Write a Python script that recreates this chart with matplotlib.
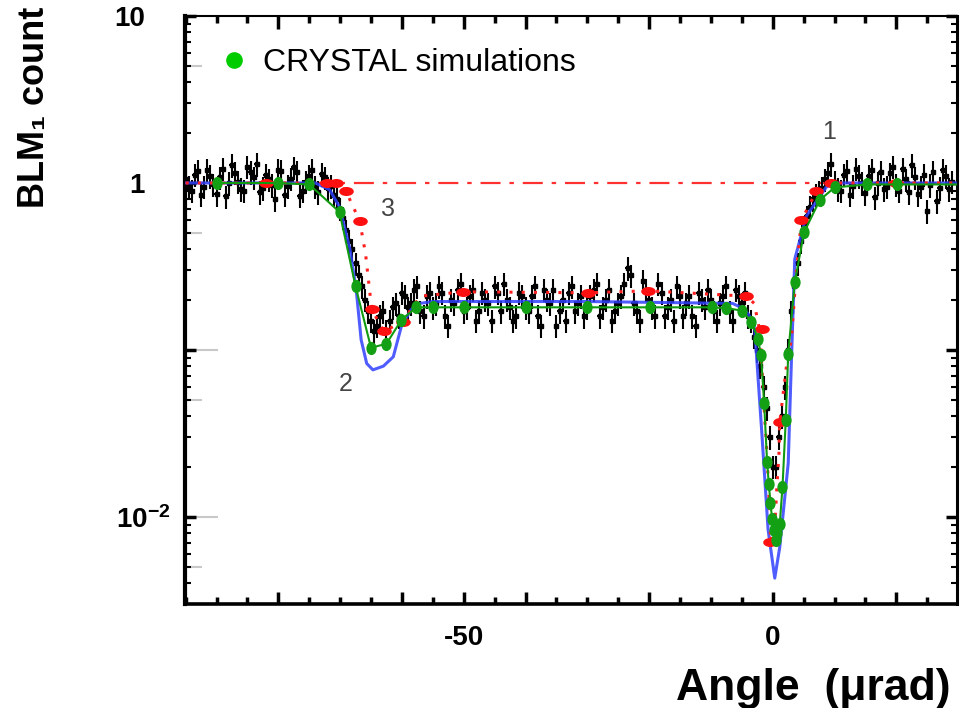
import numpy as np
import matplotlib
matplotlib.use("Agg")
import matplotlib.pyplot as plt
from matplotlib.path import Path
from matplotlib.transforms import Affine2D, ScaledTranslation
from matplotlib.ticker import MultipleLocator, FixedLocator, NullFormatter, LogLocator
from matplotlib.lines import Line2D

plt.rcParams['font.family'] = ['Liberation Sans', 'DejaVu Sans']
plt.rcParams['mathtext.fontset'] = 'custom'
plt.rcParams['mathtext.rm'] = 'Liberation Sans:bold'
plt.rcParams['mathtext.bf'] = 'Liberation Sans:bold'

# =========================
# DATA
# =========================
# measured BLM1 counts, two interleaved scans (integer and half-integer urad)
black_x = np.arange(-95, 30)
black_y = [1.05, 0.90, 1.18, 0.95, 1.10, 0.86, 1.22, 1.00, 1.15, 0.92,
           1.25, 1.08, 0.88, 1.12, 0.97, 1.20, 0.85, 1.06, 1.17, 0.90,
           1.10, 0.95, 1.13, 0.93, 0.85, 0.70, 0.52, 0.40, 0.28, 0.20,
           0.15, 0.14, 0.17, 0.15, 0.19, 0.22, 0.18, 0.23, 0.17, 0.21,
           0.18, 0.24, 0.16, 0.20, 0.23, 0.17, 0.21, 0.15, 0.22, 0.19,
           0.24, 0.17, 0.20, 0.15, 0.22, 0.18, 0.21, 0.16, 0.23, 0.19,
           0.14, 0.20, 0.22, 0.17, 0.21, 0.18, 0.23, 0.16, 0.20, 0.15,
           0.19, 0.25, 0.28, 0.17, 0.26, 0.20, 0.16, 0.22, 0.18, 0.15,
           0.21, 0.19, 0.16, 0.22, 0.18, 0.20, 0.15, 0.21, 0.17, 0.23,
           0.19, 0.16, 0.12, 0.080, 0.045, 0.020, 0.030, 0.060, 0.17, 0.33,
           0.55, 0.72, 0.85, 0.93, 1.15, 1.02, 0.90, 1.18, 0.96, 1.10,
           0.87, 1.20, 1.00, 0.92, 1.14, 0.98, 1.22, 0.88, 1.08, 0.95,
           0.68, 1.16, 0.93, 1.10, 1.02]
black_x2 = np.arange(-94.5, 29)
black_y2 = [0.95, 1.12, 0.85, 1.20, 0.98, 1.08, 0.83, 1.28, 1.02, 0.90,
            1.16, 1.30, 0.93, 1.05, 0.80, 1.18, 0.96, 1.24, 0.84, 1.02,
            1.20, 0.88, 1.08, 0.96, 0.80, 0.62, 0.45, 0.33, 0.24, 0.17,
            0.13, 0.16, 0.13, 0.18, 0.16, 0.21, 0.19, 0.24, 0.16, 0.22,
            0.19, 0.22, 0.14, 0.19, 0.25, 0.18, 0.23, 0.17, 0.20, 0.15,
            0.22, 0.25, 0.18, 0.16, 0.21, 0.17, 0.24, 0.14, 0.20, 0.23,
            0.17, 0.15, 0.24, 0.19, 0.16, 0.21, 0.25, 0.18, 0.23, 0.17,
            0.21, 0.31, 0.19, 0.15, 0.23, 0.18, 0.25, 0.16, 0.20, 0.24,
            0.16, 0.21, 0.14, 0.20, 0.23, 0.17, 0.19, 0.24, 0.15, 0.21,
            0.22, 0.15, 0.10, 0.06, 0.03, 0.02, 0.04, 0.10, 0.24, 0.45,
            0.63, 0.80, 0.88, 1.05, 1.30, 0.92, 1.12, 0.85, 1.22, 1.00,
            1.10, 0.82, 1.16, 0.95, 1.25, 0.90, 1.05, 1.28, 0.86, 1.12,
            0.97, 0.78, 1.20, 0.92]
rel_err = 0.16

# blue model curve
blue_x = [-95, -74, -71.7, -70.1, -68.4, -67.4, -66.6, -65.7, -64.7, -63.0,
          -61.4, -60.1, -58.5, -57.1, -55.0, -30.0, -6.5, -4.5, -3.2, -2.9,
          -1.8, -0.76, 0.32, 1.13, 2.5, 3.0, 3.56, 5.4, 8.7, 10.5, 30]
blue_y = [1.0, 1.0, 0.91, 0.72, 0.40, 0.23, 0.115, 0.083, 0.076, 0.080,
          0.091, 0.138, 0.175, 0.19, 0.195, 0.195, 0.19, 0.175, 0.148, 0.13,
          0.033, 0.0084, 0.0043, 0.0066, 0.021, 0.083, 0.35, 0.63, 0.95, 1.0, 1.0]

# red dotted model curve
red_x = [-95, -70.6, -69.0, -68.2, -66.8, -66.4, -65.9, -65.3, -64.9, -62.9,
         -59.9, -57.0, -50.1, -29.9, -20.2, -4.3, -3.0, -2.1, -1.3, -1.1,
         -0.76, -0.5, -0.37, 0.4, 0.7, 1.0, 1.13, 2.3, 3.0, 3.8,
         4.64, 7.07, 9.5, 30]
red_y = [1.0, 1.0, 0.89, 0.76, 0.59, 0.48, 0.38, 0.24, 0.175, 0.129,
         0.148, 0.21, 0.223, 0.22, 0.226, 0.21, 0.19, 0.13, 0.039, 0.030,
         0.0175, 0.011, 0.0071, 0.010, 0.016, 0.024, 0.037, 0.085, 0.115, 0.29,
         0.60, 0.89, 1.0, 1.0]
# big red markers
redpt_x = [-82.0, -72.2, -70.6, -69.0, -66.8, -64.9, -62.9, -59.9, -50.1, -29.9,
           -20.2, -4.3, -1.8, -0.37, 1.13, 4.64, 7.07, 9.5, 20.0]
redpt_y = [1.0, 1.0, 1.0, 0.89, 0.59, 0.175, 0.129, 0.148, 0.223, 0.22,
           0.226, 0.21, 0.133, 0.0071, 0.037, 0.60, 0.89, 1.0, 1.0]

# CRYSTAL simulations
green_x = [-90.0, -80.1, -75.0, -70.1, -67.5, -65.0, -62.5, -60.1, -57.7, -55.0,
           -50.0, -40.0, -30.0, -19.9, -9.9, -7.5, -5.0, -3.45, -2.4, -1.9,
           -1.4, -0.92, -0.65, -0.37, -0.11, 0.16, 0.49, 0.7, 1.13, 1.57,
           2.1, 2.5, 3.56, 5.07, 7.6, 10.0, 15.2, 20.1]
green_y = [1.0, 1.0, 0.98, 0.67, 0.24, 0.103, 0.109, 0.151, 0.18, 0.18,
           0.18, 0.18, 0.18, 0.18, 0.18, 0.178, 0.172, 0.148, 0.117, 0.093,
           0.048, 0.0214, 0.0158, 0.0121, 0.0097, 0.0083, 0.0073, 0.0080, 0.0091, 0.0151,
           0.038, 0.095, 0.256, 0.507, 0.79, 0.94, 0.98, 0.98]
green_line_end = 30

# curve labels
lab_text = ["1", "2", "3"]
lab_x = [9.1, -69.1, -62.3]
lab_y = [2.02, 0.0625, 0.70]

# =========================
# FIGURE
# =========================
fig = plt.figure(figsize=(9.61, 7.08), dpi=100)
ax = fig.add_axes([0.1925, 0.1469, 0.8033, 0.8305])

ax.set_yscale("log")
ax.set_xlim(-95.1, 29.8)
ax.set_ylim(0.00301, 10)

green_marker = Path.unit_circle().transformed(Affine2D().scale(0.78, 1.0))
red_marker = Path.unit_circle().transformed(Affine2D().scale(1.0, 0.62))

ax.axhline(1.0, color="#ff3030", lw=1.6, ls=(0, (9, 4, 2, 4)), zorder=1)

for bx, by in [(black_x, black_y), (black_x2, black_y2)]:
    ax.errorbar(bx, by, yerr=np.array(by) * rel_err, xerr=0.4,
                fmt="s", ms=2.5, color="black", ecolor="black", elinewidth=1.5,
                capsize=0, zorder=2)

ax.plot(blue_x, blue_y, color="#3040ff", lw=2.2, alpha=0.85, zorder=3)
ax.plot(red_x, red_y, color="#ff2020", lw=2.2, ls=(0, (1, 3)), zorder=3)
ax.plot(redpt_x, redpt_y, ls="none", marker=red_marker, ms=10.5,
        color="#ff1010", mec="none", zorder=3)

ax.plot(green_x + [green_line_end], green_y + [green_y[-1]], color="#109a10", lw=1.5, zorder=4)
ax.plot(green_x, green_y, ls="none", marker=green_marker, ms=9.5,
        color="#14a014", mec="none", zorder=5)

for t, x, y in zip(lab_text, lab_x, lab_y):
    ax.text(x, y, t, fontsize=18, color="#444444", ha="center", va="center")

# legend
h = Line2D([], [], ls="none", marker="o", ms=12, color="#00cc00", mec="none")
ax.legend([h], ["CRYSTAL simulations"], loc="center left",
          bbox_to_anchor=(0.043, 0.92), frameon=False, fontsize=23,
          handlelength=1.0, handletextpad=0.4, borderpad=0, borderaxespad=0)

# ticks
ax.set_xticks([-80, -60, -50, -40, -20, 0, 20])
ax.set_xticklabels(["", "", "-50", "", "", "0", ""], fontsize=20, fontweight="bold")
ax.xaxis.set_minor_locator(MultipleLocator(5))
ax.tick_params(axis="x", which="major", direction="in", length=9, width=2.5,
               top=True, pad=15)
ax.tick_params(axis="x", which="minor", direction="in", length=5, width=2.5, top=True)

ax.set_yticks([10, 1, 0.1, 0.01])
ax.set_yticklabels(["10", "1", "", r"$\mathbf{10^{-2}}$"], fontsize=20, fontweight="bold")
ax.yaxis.set_minor_locator(LogLocator(base=10, subs=range(2, 10)))
ax.yaxis.set_minor_formatter(NullFormatter())
ax.tick_params(axis="y", which="major", direction="in", length=8, width=2.5,
               right=True, pad=29)
ax.tick_params(axis="y", which="minor", direction="in", length=4, width=1.5, right=True)

lbl = ax.get_yticklabels()[3]
lbl.set_transform(lbl.get_transform() + ScaledTranslation(0.26, 0, fig.dpi_scale_trans))

# grey overlay ticks on the left axis
sec = ax.secondary_yaxis("left", functions=(lambda v: v, lambda v: v))
sec.set_yticks([1, 0.1, 0.01])
sec.yaxis.set_minor_locator(FixedLocator([5, 0.5, 0.05, 0.005]))
sec.yaxis.set_minor_formatter(NullFormatter())
sec.tick_params(axis="y", which="major", direction="in", length=24, width=1.5,
                color="#c8c8c8", labelleft=False)
sec.tick_params(axis="y", which="minor", direction="in", length=12, width=1.5,
                color="#c8c8c8")
sec.spines["left"].set_visible(False)

ax.spines["left"].set_linewidth(3.0)
ax.spines["bottom"].set_linewidth(2.6)
ax.spines["top"].set_linewidth(1.5)
ax.spines["right"].set_linewidth(2.2)

fig.text(0.036, 0.849, "BLM\u2081 count", rotation=90, ha="center", va="center",
         fontsize=26, fontweight="bold")
fig.text(0.846, 0.028, "Angle  (\u03bcrad)", ha="center", va="center",
         fontsize=32, fontweight="bold")

fig.savefig("out.png", dpi=100)
